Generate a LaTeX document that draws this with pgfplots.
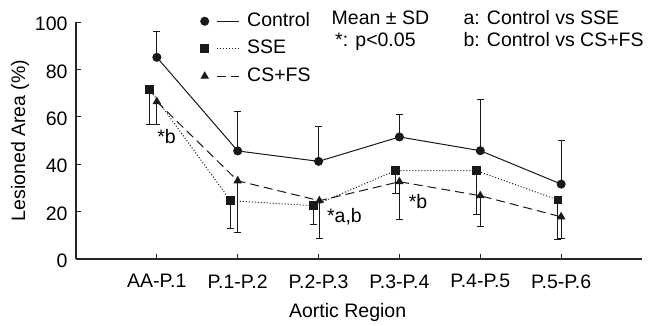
\documentclass[border=0pt]{standalone}
\usepackage{fontspec}
\setmainfont{Liberation Sans}
\usepackage{pgfplots}
\pgfplotsset{compat=1.18}
\begin{document}
\begin{tikzpicture}[x=1pt,y=1pt]
\useasboundingbox (0,0) rectangle (651,325);
\begin{axis}[
 at={(76pt,66pt)}, anchor=south west,
 scale only axis, width=566pt, height=237pt,
 xmin=-1, xmax=6, ymin=0, ymax=100,
 axis lines*=left,
 axis line style={line width=1.1pt, black!85},
 tick align=inside, major tick length=5pt,
 tick style={line width=1pt, black!85},
 xtick={0,...,5},
 xticklabels={AA-P.1,P.1-P.2,P.2-P.3,P.3-P.4,P.4-P.5,P.5-P.6},
 ytick={0,20,...,100},
 xticklabel style={yshift=-12pt},
 yticklabel style={xshift=-5pt, yshift=-2pt},
 font=\fontsize{19.5}{23}\selectfont,
 /pgf/number format/assume math mode=true,
 xlabel={Aortic Region}, ylabel={Lesioned Area (\%)},
 xlabel style={at={(axis description cs:0.48,-0.225)}, anchor=center},
 ylabel style={at={(axis description cs:-0.099,0.5)}, anchor=center},
 clip=false,
 legend style={at={(rel axis cs:0.22,1.042)}, anchor=north west, draw=none, fill=none,
   inner sep=0pt, row sep=9.5pt, column sep=0pt, font=\fontsize{19.5}{23}\selectfont,
   nodes={inner sep=0pt, text height=14pt, text depth=4pt}},
 legend cell align=left,
 legend image code/.code={
   \draw[#1, mark=none] (12pt,0pt) -- (34pt,0pt);
   \draw[#1] plot coordinates {(0pt,0pt)};
   \path (42pt,0pt);
 },
]
\addplot[black!90, line width=1pt, mark=*, mark size=4pt,
  error bars/.cd, y dir=plus, y explicit,
  error bar style={line width=1pt, solid},
  error mark options={rotate=90, mark size=3.5pt, line width=1pt, solid}]
  coordinates {(0,85.1) +- (0,10.8) (1,45.6) +- (0,16.8) (2,41.2) +- (0,14.9)
               (3,51.5) +- (0,9.5) (4,45.7) +- (0,21.8) (5,31.6) +- (0,18.3)};
\addlegendentry{Control}
\addplot[black!90, line width=1pt, dotted, mark=square*, mark size=3.8pt, mark options={solid},
  error bars/.cd, y dir=minus, y explicit,
  error bar style={line width=1pt, solid},
  error mark options={rotate=90, mark size=3.5pt, line width=1pt, solid}]
  coordinates {(-0.09,71.6) +- (0,14.8) (0.91,24.6) +- (0,11.7) (1.94,22.5) +- (0,7.9)
               (2.95,37.3) +- (0,9.6) (3.95,37.3) +- (0,18.7) (4.96,24.9) +- (0,16.5)};
\addlegendentry{SSE}
\addplot[black!90, line width=1pt, dash pattern=on 9pt off 5pt, mark=triangle*, mark size=4pt, mark options={solid},
  error bars/.cd, y dir=minus, y explicit,
  error bar style={line width=1pt, solid},
  error mark options={rotate=90, mark size=3.5pt, line width=1pt, solid}]
  coordinates {(0,66.4) +- (0,9.6) (1,33.0) +- (0,21.7) (2.01,24.6) +- (0,15.9)
               (3,32.6) +- (0,16.1) (4,26.7) +- (0,13.1) (5,17.8) +- (0,9.1)};
\addlegendentry{CS+FS}
\node[anchor=center] at (axis cs:0.12,51.7) {*b};
\node[anchor=center] at (axis cs:2.32,18.0) {*a,b};
\node[anchor=center] at (axis cs:3.23,24.3) {*b};
\end{axis}
\begin{scope}[font=\fontsize{19.5}{23}\selectfont]
\node[anchor=base west, inner sep=0pt] at (331.5,301) {Mean ± SD};
\node[anchor=base west, inner sep=0pt] at (335,278.3) {*: p<0.05};
\node[anchor=base west, inner sep=0pt] at (463.3,301) {a: Control vs SSE};
\node[anchor=base west, inner sep=0pt] at (463.3,278.3) {b: Control vs CS+FS};
\end{scope}
\end{tikzpicture}
\end{document}
